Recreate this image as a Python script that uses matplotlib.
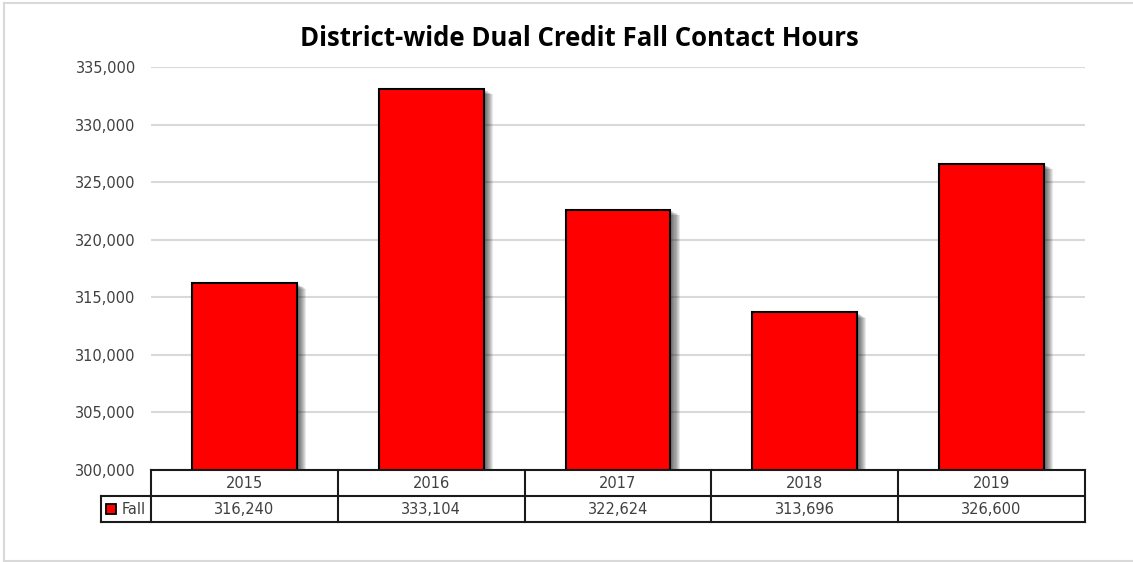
import matplotlib
matplotlib.use('Agg')
import matplotlib.pyplot as plt
import matplotlib.patheffects as pe
from matplotlib.patches import Rectangle
from matplotlib.ticker import FuncFormatter

# 各年度秋季学时
years = ['2015', '2016', '2017', '2018', '2019']
fall_hours = [316240, 333104, 322624, 313696, 326600]
series_name = 'Fall'
chart_title = 'District-wide Dual Credit Fall Contact Hours'
y_ticks = [300000, 305000, 310000, 315000, 320000, 325000, 330000, 335000]

W, H = 1133, 562
fig = plt.figure(figsize=(W / 100, H / 100), dpi=100)
fig.patch.set_facecolor('white')


def fx(px):
    return px / W


def fy(py):
    return 1 - py / H


tf = fig.transFigure

# 外框（左、上、下三边）
for xs, ys in [((4, 4), (3, 561)), ((4, 1140), (3, 3)), ((4, 1140), (561, 561))]:
    fig.add_artist(plt.Line2D([fx(xs[0]), fx(xs[1])], [fy(ys[0]), fy(ys[1])], transform=tf,
                              color='#d9d9d9', linewidth=1.5))

left, right, top, bottom = 151, 1085, 67, 470
ax = fig.add_axes([left / W, 1 - bottom / H, (right - left) / W, (bottom - top) / H])
ax.set_xlim(-0.5, len(years) - 0.5)
ax.set_ylim(y_ticks[0], y_ticks[-1])
ax.set_yticks(y_ticks)
ax.yaxis.set_major_formatter(FuncFormatter(lambda v, p: f'{int(v):,}'))
ax.tick_params(axis='y', length=0, pad=11, labelsize=10.5, labelcolor='#404040')
ax.tick_params(axis='x', length=0, labelbottom=False)
for s in ax.spines.values():
    s.set_visible(False)
ax.grid(axis='y', color='#d9d9d9', linewidth=1.5)
ax.set_axisbelow(True)

# 阴影效果：多层半透明偏移
shadow = [pe.SimplePatchShadow(offset=(d * 0.75, -d * 0.45), shadow_rgbFace='black', alpha=0.09)
          for d in range(1, 10)]
ax.bar(range(len(years)), [v - y_ticks[0] for v in fall_hours], bottom=y_ticks[0], width=0.56,
       color='#ff0000', edgecolor='black', linewidth=1.5, zorder=3,
       path_effects=shadow + [pe.Normal()])

fig.text(fx(579), fy(38), chart_title, ha='center', va='center',
         fontsize=18.5, fontweight='bold', family='Open Sans', color='black')

# 底部数据表
row1_top, row_mid, row2_bot = 470, 496, 522
legend_left = 101
col_w = (right - left) / len(years)

lines = [
    ((left, right), (row1_top, row1_top)),
    ((legend_left, right), (row_mid, row_mid)),
    ((legend_left, right), (row2_bot, row2_bot)),
    ((legend_left, legend_left), (row_mid, row2_bot)),
]
for i in range(len(years) + 1):
    x = left + i * col_w
    lines.append(((x, x), (row1_top, row2_bot)))
for xs, ys in lines:
    fig.add_artist(plt.Line2D([fx(xs[0]), fx(xs[1])], [fy(ys[0]), fy(ys[1])], transform=tf,
                              color='#1a1a1a', linewidth=1.5, solid_capstyle='projecting'))

for i, (yr, v) in enumerate(zip(years, fall_hours)):
    cx = left + (i + 0.5) * col_w
    fig.text(fx(cx), fy((row1_top + row_mid) / 2), yr, ha='center', va='center',
             fontsize=10.5, color='#404040')
    fig.text(fx(cx), fy((row_mid + row2_bot) / 2), f'{v:,}', ha='center', va='center',
             fontsize=10.5, color='#404040')

# 图例色块
fig.patches.append(Rectangle((fx(106), fy(513.5)), 10 / W, 10 / H, transform=tf,
                             facecolor='#ff0000', edgecolor='black', linewidth=1.3))
fig.text(fx(122), fy((row_mid + row2_bot) / 2), series_name, ha='left', va='center',
         fontsize=10.5, color='#404040')

fig.savefig('out.png', dpi=100, facecolor='white')
